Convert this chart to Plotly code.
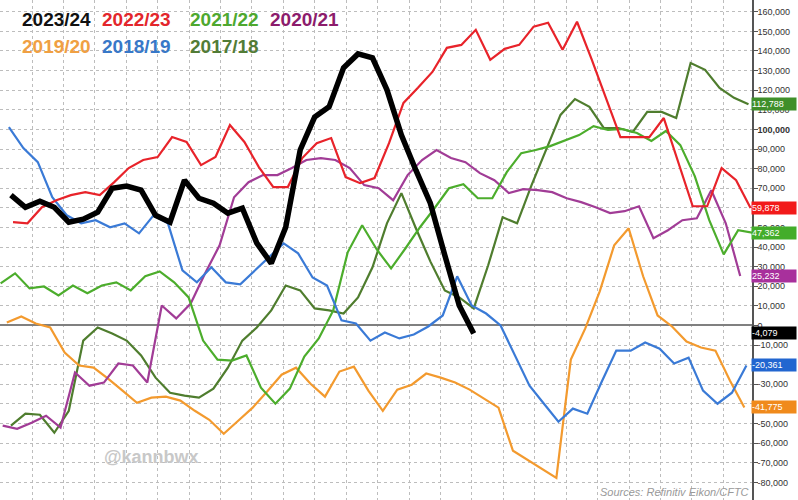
import plotly.graph_objects as go

# Net positions (thousand contracts), weekly reports per season
seasons = ["2023/24", "2022/23", "2021/22", "2020/21", "2019/20", "2018/19", "2017/18"]
# day of the season on which each season's first weekly report falls
first_day = {"2023/24": 5, "2022/23": 6, "2021/22": 0, "2020/21": 1,
             "2019/20": 3, "2018/19": 4, "2017/18": 5}

net_2023_24 = [66.5, 60.3, 63.4, 60.3, 52.7, 54.2, 57.8, 70.0, 71.1, 69.0,
               56.2, 52.7, 74.1, 64.9, 62.4, 57.3, 59.8, 42.0, 31.7, 50.1,
               89.5, 106.3, 111.5, 131.4, 138.5, 136.5, 120.2, 97.1, 79.2, 62.4,
               35.8, 10.2, -4.079]
net_2022_23 = [52.7, 52.1, 60.3, 63.9, 66.5, 68.0, 66.5, 73.1, 80.3, 84.4,
               85.9, 96.1, 93.6, 81.8, 85.9, 102.2, 93.6, 80.8, 70.6, 70.6,
               85.4, 93.0, 95.6, 75.7, 72.6, 75.2, 93.0, 113.5, 121.2, 129.3,
               141.6, 143.1, 150.8, 135.5, 141.1, 143.1, 152.4, 154.4, 140.6, 154.9,
               136.0, 116.0, 96.1, 96.1, 96.1, 105.8, 83.3, 60.8, 60.8, 80.3,
               74.1, 59.878]
net_2021_22 = [21.5, 26.6, 18.9, 19.9, 15.3, 20.4, 16.4, 20.4, 22.0, 17.9,
               25.1, 27.6, 22.0, 14.3, -7.7, -17.4, -17.9, -15.3, -31.7, -39.9,
               -32.2, -15.8, -6.6, 7.7, 37.3, 51.1, 38.9, 29.1, 39.4, 50.1,
               59.8, 70.0, 72.1, 64.9, 64.9, 78.2, 87.9, 89.5, 91.5, 94.1,
               97.1, 101.7, 99.7, 100.2, 98.2, 94.1, 99.2, 92.0, 76.2, 53.7,
               36.3, 48.6, 47.362]
net_2020_21 = [-51.1, -52.7, -49.6, -46.0, -52.1, -24.0, -30.7, -29.1, -19.4, -20.4,
               -29.1, 10.2, 3.6, 11.2, 26.6, 40.9, 65.4, 73.1, 76.7, 76.7,
               80.3, 84.4, 85.4, 84.4, 80.3, 71.6, 70.0, 63.9, 76.7, 84.4,
               89.5, 85.4, 83.3, 77.7, 74.1, 67.5, 69.5, 69.0, 68.0, 64.9,
               62.9, 60.3, 57.3, 58.3, 60.8, 44.5, 48.6, 53.7, 54.7, 69.0,
               52.1, 25.232]
net_2019_20 = [1.5, 4.6, 1.0, -1.0, -13.8, -20.4, -21.5, -27.1, -33.2, -39.4,
               -36.8, -36.3, -38.3, -43.5, -48.1, -55.2, -48.6, -41.9, -33.7, -25.1,
               -21.5, -29.7, -36.3, -23.5, -21.0, -33.2, -43.5, -32.7, -30.2, -24.5,
               -26.6, -29.1, -32.7, -37.3, -41.9, -63.9, -68.5, -73.1, -77.7, -17.4,
               -1.5, 17.4, 40.9, 49.6, 25.1, 5.1, -0.5, -8.2, -11.2, -12.8,
               -28.1, -41.775]
net_2018_19 = [101.2, 90.5, 83.3, 65.4, 56.2, 52.1, 53.7, 50.1, 52.1, 47.0,
               56.2, 52.1, 28.1, 22.0, 29.7, 22.0, 21.0, 28.1, 35.3, 41.9,
               36.8, 24.5, 20.4, 2.6, 1.0, -7.7, -3.6, -6.6, -4.6, -0.5,
               5.1, 25.1, 10.2, 6.1, 0.0, -15.8, -30.7, -39.9, -49.1, -42.4,
               -45.0, -28.6, -12.8, -12.8, -8.7, -11.8, -19.4, -16.4, -33.2, -39.9,
               -34.3, -20.361]
net_2017_18 = [-51.1, -45.0, -45.5, -54.7, -43.5, -7.7, -1.0, -4.1, -7.7, -15.3,
               -26.6, -34.3, -35.8, -36.8, -32.2, -21.5, -7.7, -1.0, 7.7, 20.4,
               17.9, 8.7, 7.7, 6.1, 14.3, 29.7, 52.1, 67.5, 49.6, 32.7,
               17.9, 14.3, 8.7, 30.7, 55.2, 52.1, 71.6, 89.5, 107.4, 115.5,
               111.5, 100.7, 100.7, 98.7, 108.9, 108.9, 105.8, 133.9, 130.4, 121.2,
               116.1, 112.788]

series = {"2023/24": net_2023_24, "2022/23": net_2022_23, "2021/22": net_2021_22,
          "2020/21": net_2020_21, "2019/20": net_2019_20, "2018/19": net_2018_19,
          "2017/18": net_2017_18}

line_colors = {"2023/24": "#000000", "2022/23": "#e8232a", "2021/22": "#4cad2c",
               "2020/21": "#a13c96", "2019/20": "#f39a2e", "2018/19": "#3a7ad6",
               "2017/18": "#4f7d2e"}
label_colors = {"2023/24": "#111111", "2022/23": "#e3262c", "2021/22": "#4ea82f",
                "2020/21": "#8c1c6c", "2019/20": "#f0a043", "2018/19": "#3878c8",
                "2017/18": "#527c36"}
box_colors = {"2023/24": "#000000", "2022/23": "#f21a1a", "2021/22": "#43ad2a",
              "2020/21": "#a8309c", "2019/20": "#f08a1c", "2018/19": "#2266d0",
              "2017/18": "#3f8f2a"}

draw_order = ["2017/18", "2019/20", "2020/21", "2021/22", "2018/19", "2022/23", "2023/24"]

FONT = "Liberation Sans, Arial, sans-serif"

fig = go.Figure()
for s in draw_order:
    vals = series[s]
    days = [first_day[s] + 7 * i for i in range(len(vals))]
    fig.add_trace(go.Scatter(
        x=days, y=[v * 1000 for v in vals], mode="lines", name=s,
        line=dict(color=line_colors[s], width=5.5 if s == "2023/24" else 2.2),
        hoverinfo="skip", showlegend=False))

# legend as coloured labels, two rows
legend_rows = [["2023/24", "2022/23", "2021/22", "2020/21"],
               ["2019/20", "2018/19", "2017/18"]]
legend_x = [20, 100, 188, 268]
legend_y = [19, 47]
W, H = 752, 500
for r, row in enumerate(legend_rows):
    for c, s in enumerate(row):
        fig.add_annotation(x=legend_x[c] / W, y=1 - legend_y[r] / H, xref="paper", yref="paper",
                           xanchor="left", yanchor="middle", showarrow=False, text=f"<b>{s}</b>",
                           font=dict(family=FONT, size=19, color=label_colors[s]))

# last-value boxes on the right axis
for s in seasons:
    v = series[s][-1] * 1000
    fig.add_annotation(x=1, y=v, xref="paper", yref="y", xanchor="left", yanchor="middle",
                       showarrow=False, text=f"{round(v):,}", width=44, height=12, align="left",
                       bgcolor=box_colors[s], borderpad=0, xshift=-1,
                       font=dict(family=FONT, size=9, color="#ffffff"))

fig.add_annotation(x=102 / W, y=1 - 457 / H, xref="paper", yref="paper", xanchor="left",
                   yanchor="middle", showarrow=False, text="<b>@kannbwx</b>",
                   font=dict(family=FONT, size=18, color="#c8c8c8"))
fig.add_annotation(x=598 / W, y=1 - 492 / H, xref="paper", yref="paper", xanchor="left",
                   yanchor="middle", showarrow=False, text="<i>Sources: Refinitiv Eikon/CFTC</i>",
                   font=dict(family=FONT, size=11, color="#9a9a9a"))

tick_vals = list(range(-80000, 160001, 10000))
tick_text = [("<b>100,000</b>" if v == 100000 else f"{v:,}") for v in tick_vals]

fig.update_layout(
    width=798, height=500, margin=dict(l=0, r=46, t=0, b=0),
    paper_bgcolor="white", plot_bgcolor="white", template="none",
    font=dict(family=FONT),
    xaxis=dict(range=[-0.3, 363.7], showticklabels=False, ticks="", showline=False,
               zeroline=False, showgrid=True, gridcolor="#bdbdbd", gridwidth=1,
               griddash="dot", tickmode="linear", tick0=365 / 24, dtick=365 / 24,
               automargin=False),
    yaxis=dict(range=[-89000, 166000], side="right", showline=True, linecolor="#555555",
               linewidth=1.5, ticks="outside", ticklen=4, tickcolor="#555555",
               tickmode="array", tickvals=tick_vals, ticktext=tick_text,
               ticklabelstandoff=-2,
               tickfont=dict(family=FONT, size=9, color="#333333"),
               showgrid=True, gridcolor="#bdbdbd", gridwidth=1, griddash="dot",
               zeroline=True, zerolinecolor="#808080", zerolinewidth=1.5,
               automargin=False),
)

fig.write_html("out.html", config={"displayModeBar": False},
               post_script="document.body.style.margin='0';")
